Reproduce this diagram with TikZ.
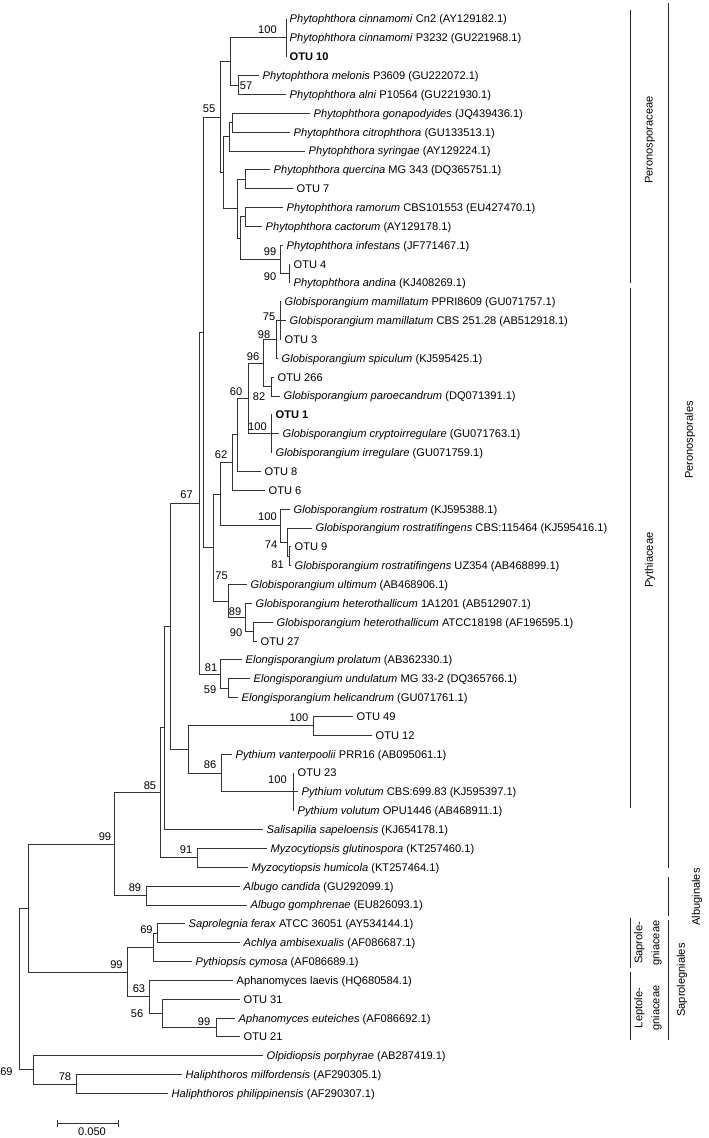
\documentclass[tikz,border=0pt]{standalone}
\usepackage{fontspec}
\setmainfont{Liberation Sans}
\usetikzlibrary{calc}
\begin{document}
\begin{tikzpicture}[x=1pt,y=-1pt,font=\fontsize{11.1}{17}\selectfont,
  br/.style={line width=0.9pt,draw=black!80},
  bk/.style={line width=0.9pt,draw=black!85},
  leaftext/.style={anchor=west,inner sep=0pt,text height=7.9pt,text depth=0pt},
  bs/.style={inner sep=0pt,text height=7.9pt,text depth=0pt,anchor=center},
  grp/.style={inner sep=0pt,rotate=90,align=center,anchor=center}]
\useasboundingbox (0,0) rectangle (709,1138);
\newcommand\leaf[4]{\coordinate (#1) at (#3,{19+(#2-1)*18.85}); \node[leaftext] (t#1) at ($(#1)+(3.5,0)$) {#4};}
\newcommand\inode[4]{\path let \p1=($(#3)!0.5!(#4)$) in (#2pt,\y1) coordinate (#1);}
\newcommand\edg[2]{\foreach \c in {#2} {\draw[br] (#1) |- (\c);}}
% leaves
\leaf{l1}{1}{286}{\textit{Phytophthora cinnamomi} Cn2 (AY129182.1)}
\leaf{l2}{2}{286}{\textit{Phytophthora cinnamomi} P3232 (GU221968.1)}
\leaf{l3}{3}{286}{\textbf{OTU 10}}
\leaf{l4}{4}{259}{\textit{Phytophthora melonis} P3609 (GU222072.1)}
\leaf{l5}{5}{286}{\textit{Phytophthora alni} P10564 (GU221930.1)}
\leaf{l6}{6}{310}{\textit{Phytophthora gonapodyides} (JQ439436.1)}
\leaf{l7}{7}{290}{\textit{Phytophthora citrophthora} (GU133513.1)}
\leaf{l8}{8}{305}{\textit{Phytophthora syringae} (AY129224.1)}
\leaf{l9}{9}{270}{\textit{Phytophthora quercina} MG 343 (DQ365751.1)}
\leaf{l10}{10}{293}{OTU 7}
\leaf{l11}{11}{283}{\textit{Phytophthora ramorum} CBS101553 (EU427470.1)}
\leaf{l12}{12}{262}{\textit{Phytophthora cactorum} (AY129178.1)}
\leaf{l13}{13}{283}{\textit{Phytophthora infestans} (JF771467.1)}
\leaf{l14}{14}{290}{OTU 4}
\leaf{l15}{15}{290}{\textit{Phytophthora andina} (KJ408269.1)}
\leaf{l16}{16}{281}{\textit{Globisporangium mamillatum} PPRI8609 (GU071757.1)}
\leaf{l17}{17}{286}{\textit{Globisporangium mamillatum} CBS 251.28 (AB512918.1)}
\leaf{l18}{18}{281}{OTU 3}
\leaf{l19}{19}{278}{\textit{Globisporangium spiculum} (KJ595425.1)}
\leaf{l20}{20}{274}{OTU 266}
\leaf{l21}{21}{280}{\textit{Globisporangium paroecandrum} (DQ071391.1)}
\leaf{l22}{22}{272}{\textbf{OTU 1}}
\leaf{l23}{23}{279}{\textit{Globisporangium cryptoirregulare} (GU071763.1)}
\leaf{l24}{24}{272}{\textit{Globisporangium irregulare} (GU071759.1)}
\leaf{l25}{25}{261}{OTU 8}
\leaf{l26}{26}{265}{OTU 6}
\leaf{l27}{27}{290}{\textit{Globisporangium rostratum} (KJ595388.1)}
\leaf{l28}{28}{312}{\textit{Globisporangium rostratifingens} CBS:115464 (KJ595416.1)}
\leaf{l29}{29}{291}{OTU 9}
\leaf{l30}{30}{291}{\textit{Globisporangium rostratifingens} UZ354 (AB468899.1)}
\leaf{l31}{31}{247}{\textit{Globisporangium ultimum} (AB468906.1)}
\leaf{l32}{32}{252}{\textit{Globisporangium heterothallicum} 1A1201 (AB512907.1)}
\leaf{l33}{33}{273}{\textit{Globisporangium heterothallicum} ATCC18198 (AF196595.1)}
\leaf{l34}{34}{257}{OTU 27}
\leaf{l35}{35}{242}{\textit{Elongisporangium prolatum} (AB362330.1)}
\leaf{l36}{36}{250}{\textit{Elongisporangium undulatum} MG 33-2 (DQ365766.1)}
\leaf{l37}{37}{238}{\textit{Elongisporangium helicandrum} (GU071761.1)}
\leaf{l38}{38}{353}{OTU 49}
\leaf{l39}{39}{372}{OTU 12}
\leaf{l40}{40}{232}{\textit{Pythium vanterpoolii} PRR16 (AB095061.1)}
\leaf{l41}{41}{294}{OTU 23}
\leaf{l42}{42}{298}{\textit{Pythium volutum} CBS:699.83 (KJ595397.1)}
\leaf{l43}{43}{294}{\textit{Pythium volutum} OPU1446 (AB468911.1)}
\leaf{l44}{44}{263}{\textit{Salisapilia sapeloensis} (KJ654178.1)}
\leaf{l45}{45}{267}{\textit{Myzocytiopsis glutinospora} (KT257460.1)}
\leaf{l46}{46}{248}{\textit{Myzocytiopsis humicola} (KT257464.1)}
\leaf{l47}{47}{240}{\textit{Albugo candida} (GU292099.1)}
\leaf{l48}{48}{247}{\textit{Albugo gomphrenae} (EU826093.1)}
\leaf{l49}{49}{185}{\textit{Saprolegnia ferax} ATCC 36051 (AY534144.1)}
\leaf{l50}{50}{240}{\textit{Achlya ambisexualis} (AF086687.1)}
\leaf{l51}{51}{192}{\textit{Pythiopsis cymosa} (AF086689.1)}
\leaf{l52}{52}{233}{Aphanomyces laevis (HQ680584.1)}
\leaf{l53}{53}{240}{OTU 31}
\leaf{l54}{54}{235}{\textit{Aphanomyces euteiches} (AF086692.1)}
\leaf{l55}{55}{240}{OTU 21}
\leaf{l56}{56}{263}{\textit{Olpidiopsis porphyrae} (AB287419.1)}
\leaf{l57}{57}{182}{\textit{Haliphthoros milfordensis} (AF290305.1)}
\leaf{l58}{58}{168}{\textit{Haliphthoros philippinensis} (AF290307.1)}
% internal nodes
\inode{P100}{286}{l1}{l3}
\inode{P57}{238}{l4}{l5}
\inode{N1}{230}{P100}{P57}
\inode{Pgc}{232}{l6}{l7}
\inode{Pgcs}{229}{Pgc}{l8}
\inode{Pq}{245}{l9}{l10}
\inode{Prc}{245}{l11}{l12}
\inode{W}{289}{l14}{l15}
\inode{Pinf}{280}{l13}{W}
\inode{Prci}{240}{Prc}{Pinf}
\inode{Pqr}{237}{Pq}{Prci}
\inode{N3}{223}{Pgcs}{Pqr}
\inode{N2}{220}{N1}{N3}
\inode{X}{280}{l16}{l18}
\inode{Y}{276}{X}{l19}
\inode{V}{271}{l20}{l21}
\inode{Z}{263}{Y}{V}
\inode{R}{271}{l22}{l24}
\inode{T}{248}{Z}{R}
\inode{S}{237}{T}{l25}
\inode{Q}{232}{S}{l26}
\inode{M}{289}{l29}{l30}
\inode{O}{287}{l28}{M}
\inode{P}{280}{l27}{O}
\inode{N}{220}{Q}{P}
\inode{K}{253}{l33}{l34}
\inode{J}{245}{l32}{K}
\inode{I}{228}{l31}{J}
\inode{H}{213}{N}{I}
\inode{D}{203}{N2}{H}
\inode{G}{228}{l36}{l37}
\inode{F}{220}{l35}{G}
\inode{E}{199}{D}{F}
\inode{U}{313}{l38}{l39}
\inode{L}{293}{l41}{l43}
\inode{Pe}{221}{l40}{L}
\inode{Nb}{188}{U}{Pe}
\inode{Nc}{170}{E}{Nb}
\inode{C}{164}{Nc}{l44}
\inode{My}{197}{l45}{l46}
\inode{B}{160}{C}{My}
\inode{Al}{146}{l47}{l48}
\inode{A}{114}{B}{Al}
\inode{Sa}{157}{l49}{l50}
\inode{Sb}{153}{Sa}{l51}
\inode{Ae}{216}{l54}{l55}
\inode{Af}{162}{l53}{Ae}
\inode{Ag}{149}{l52}{Af}
\inode{Sc}{127}{Sb}{Ag}
\inode{Rt}{28}{A}{Sc}
\inode{Hh}{76}{l57}{l58}
\inode{Ol}{33}{l56}{Hh}
\inode{Root}{19}{Rt}{Ol}
% branches
\edg{P100}{l1,l2,l3}
\edg{P57}{l4,l5}
\edg{N1}{P100,P57}
\edg{Pgc}{l6,l7}
\edg{Pgcs}{Pgc,l8}
\edg{Pq}{l9,l10}
\edg{Prc}{l11,l12}
\edg{W}{l14,l15}
\edg{Pinf}{l13,W}
\edg{Prci}{Prc,Pinf}
\edg{Pqr}{Pq,Prci}
\edg{N3}{Pgcs,Pqr}
\edg{N2}{N1,N3}
\edg{X}{l16,l17,l18}
\edg{Y}{X,l19}
\edg{V}{l20,l21}
\edg{Z}{Y,V}
\edg{R}{l22,l23,l24}
\edg{T}{Z,R}
\edg{S}{T,l25}
\edg{Q}{S,l26}
\edg{M}{l29,l30}
\edg{O}{l28,M}
\edg{P}{l27,O}
\edg{N}{Q,P}
\edg{K}{l33,l34}
\edg{J}{l32,K}
\edg{I}{l31,J}
\edg{H}{N,I}
\edg{D}{N2,H}
\edg{G}{l36,l37}
\edg{F}{l35,G}
\edg{E}{D,F}
\edg{U}{l38,l39}
\edg{L}{l41,l42,l43}
\edg{Pe}{l40,L}
\edg{Nb}{U,Pe}
\edg{Nc}{E,Nb}
\edg{C}{Nc,l44}
\edg{My}{l45,l46}
\edg{B}{C,My}
\edg{Al}{l47,l48}
\edg{A}{B,Al}
\edg{Sa}{l49,l50}
\edg{Sb}{Sa,l51}
\edg{Ae}{l54,l55}
\edg{Af}{l53,Ae}
\edg{Ag}{l52,Af}
\edg{Sc}{Sb,Ag}
\edg{Rt}{A,Sc}
\edg{Hh}{l57,l58}
\edg{Ol}{l56,Hh}
\edg{Root}{Rt,Ol}
% bootstrap values
\node[bs] (b1) at (267.5,30) {100};
\node[bs] (b2) at (246,86) {57};
\node[bs] (b3) at (209,109) {55};
\node[bs] (b4) at (270,252) {99};
\node[bs] (b5) at (270,277) {90};
\node[bs] (b6) at (269,317) {75};
\node[bs] (b7) at (264,335) {98};
\node[bs] (b8) at (253,357) {96};
\node[bs] (b9) at (236,392) {60};
\node[bs] (b10) at (259,397) {82};
\node[bs] (b11) at (257.5,427) {100};
\node[bs] (b12) at (221,455) {62};
\node[bs] (b13) at (267.5,517) {100};
\node[bs] (b14) at (271,545) {74};
\node[bs] (b15) at (277.5,565) {81};
\node[bs] (b16) at (186.5,495) {67};
\node[bs] (b17) at (221.5,576) {75};
\node[bs] (b18) at (235,612) {89};
\node[bs] (b19) at (236,633) {90};
\node[bs] (b20) at (211,668) {81};
\node[bs] (b21) at (210,690) {59};
\node[bs] (b22) at (299,718) {100};
\node[bs] (b23) at (210,765) {86};
\node[bs] (b24) at (277.5,780) {100};
\node[bs] (b25) at (150,786) {85};
\node[bs] (b26) at (186,850) {91};
\node[bs] (b27) at (105,837) {99};
\node[bs] (b28) at (135,888) {89};
\node[bs] (b29) at (146.5,930) {69};
\node[bs] (b30) at (116.5,965) {99};
\node[bs] (b31) at (139,989) {63};
\node[bs] (b32) at (137,1014) {56};
\node[bs] (b33) at (204,1022) {99};
\node[bs] (b34) at (65,1077) {78};
\node[bs] (b35) at (6.5,1072) {69};
% scale bar
\coordinate (sb1) at (57,1123);
\coordinate (sb2) at (118,1123);
\draw[br] (sb1) -- (sb2);
\draw[br] ($(sb1)+(0,-3.5)$) -- ($(sb1)+(0,3.5)$);
\draw[br] ($(sb2)+(0,-3.5)$) -- ($(sb2)+(0,3.5)$);
\node[bs] (sbl) at (92,1132) {0.050};
% group brackets
\draw[bk] (630,10) -- (630,283);
\draw[bk] (630,288) -- (630,808);
\draw[bk] (668,3) -- (668,868);
\draw[bk] (668,877) -- (668,916);
\draw[bk] (630,918) -- (630,968);
\draw[bk] (630,972) -- (630,1040);
\draw[bk] (668,920) -- (668,1040);
\node[grp] (g1) at (650,140) {Peronosporaceae};
\node[grp] (g2) at (650,560) {Pythiaceae};
\node[grp] (g3) at (690,440) {Peronosporales};
\node[grp] (g4) at (697,897) {Albuginales};
\node[grp] (g5) at (648,943) {Saprole-\\gniaceae};
\node[grp] (g6) at (648,1008) {Leptole-\\gniaceae};
\node[grp] (g7) at (682,980) {Saprolegniales};
\end{tikzpicture}
\end{document}
